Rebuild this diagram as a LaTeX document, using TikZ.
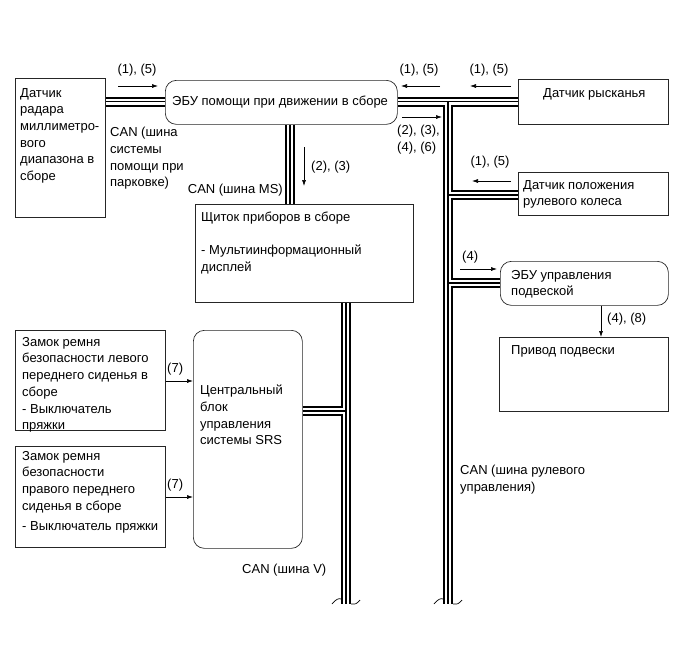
\documentclass[tikz,border=0pt]{standalone}
\usepackage{fontspec}
\setmainfont{Liberation Sans}
\usetikzlibrary{arrows.meta,backgrounds}
\begin{document}
\begin{tikzpicture}[x=1pt,y=-1pt,
  box/.style={draw=black!85,line width=0.7pt,inner sep=0pt,anchor=north west},
  rbox/.style={box,rounded corners=11pt},
  txt/.style={anchor=north west,inner sep=0pt,align=left,font=\fontsize{13}{16.7}\selectfont},
  arr/.style={-{Latex[length=6pt,width=4pt]},line width=0.6pt},
  squig/.style={line width=0.7pt},
]
\useasboundingbox (0,0) rectangle (686,662);

% boxes
\node[box,minimum width=90pt,minimum height=139pt] (radar) at (15,78) {};
\node[rbox,minimum width=232pt,minimum height=44pt] (ecu) at (165,80) {};
\node[box,minimum width=150pt,minimum height=45pt] (yaw) at (518,79) {};
\node[box,minimum width=150pt,minimum height=43pt] (steer) at (518,172) {};
\node[box,minimum width=218pt,minimum height=98pt] (ic) at (195,204) {};
\node[rbox,minimum width=168pt,minimum height=44pt] (suspecu) at (500,261) {};
\node[box,minimum width=169pt,minimum height=74pt] (act) at (499,337) {};
\node[rbox,minimum width=109pt,minimum height=218pt] (srs) at (193,330) {};
\node[box,minimum width=150pt,minimum height=100pt] (seat1) at (15,330) {};
\node[box,minimum width=150pt,minimum height=101pt] (seat2) at (15,446) {};

% box texts
\node[txt] (tradar) at (20,88) {Датчик\\радара\\миллиметро-\\вого\\диапазона в\\сборе};
\node[txt] (tecu) at (172,96) {ЭБУ помощи при движении в сборе};
\node[txt] (tyaw) at (543,88) {Датчик рысканья};
\node[txt] (tsteer) at (523,180) {Датчик положения\\рулевого колеса};
\node[txt] (tic) at (201,212) {Щиток приборов в сборе\\[16.5pt]- Мультиинформационный\\дисплей};
\node[txt] (tsusp) at (511,270) {ЭБУ управления\\подвеской};
\node[txt] (tact) at (511,345) {Привод подвески};
\node[txt] (tsrs) at (200,385) {Центральный\\блок\\управления\\системы SRS};
\node[txt] (tseat1) at (22,337) {Замок ремня\\безопасности левого\\переднего сиденья в\\сборе\\- Выключатель\\пряжки};
\node[txt] (tseat2) at (22,451) {Замок ремня\\безопасности\\правого переднего\\сиденья в сборе\\[3pt]- Выключатель пряжки};

% bus coordinates
\coordinate (bY) at (0,101.5);
\coordinate (bM) at (290,150);
\coordinate (bR1) at (448,101.5);
\coordinate (bR2) at (448,195);
\coordinate (bR3) at (448,283);
\coordinate (bRend) at (448,604);
\coordinate (bL1) at (346,411);
\coordinate (bLend) at (346,604);

\newcommand{\buslines}[1]{%
  \draw[#1] (radar.east |- bY) -- (ecu.west |- bY);
  \draw[#1] (ecu.east |- bY) -- (yaw.west |- bY);
  \draw[#1] (bR1) -- (bRend);
  \draw[#1] (bR2) -- (steer.west |- bR2);
  \draw[#1] (bR3) -- (suspecu.west |- bR3);
  \draw[#1] (ecu.south -| bM) -- (ic.north -| bM);
  \draw[#1] (ic.south -| bL1) -- (bLend);
  \draw[#1] (srs.east |- bL1) -- (bL1);
}
\begin{scope}[on background layer]
  \buslines{line width=10pt,black}
  \buslines{line width=6pt,white}
  \buslines{line width=1.2pt,black}
\end{scope}

% bus end marks
\foreach \e in {bLend,bRend}{
  \draw[squig] ([shift={(-14,0)}]\e) .. controls ([shift={(-10,-5)}]\e) and ([shift={(-7,-6)}]\e) .. ([shift={(-5,-5)}]\e);
  \draw[squig] ([shift={(5,0)}]\e) .. controls ([shift={(8,1)}]\e) and ([shift={(11,0)}]\e) .. ([shift={(14,-4)}]\e);
}

% signal arrows
\coordinate (a1s) at (118,86); \coordinate (a1e) at (158,86);
\draw[arr] (a1s) -- (a1e);
\node[txt,anchor=north] (l1) at (137,64) {(1), (5)};

\coordinate (a2s) at (304,147); \coordinate (a2e) at (304,186);
\draw[arr] (a2s) -- (a2e);
\node[txt] (l2) at (311,160.5) {(2), (3)};

\coordinate (a3s) at (440,86); \coordinate (a3e) at (401,86);
\draw[arr] (a3s) -- (a3e);
\node[txt,anchor=north] (l3) at (419,64) {(1), (5)};

\coordinate (a4s) at (511,86); \coordinate (a4e) at (470,86);
\draw[arr] (a4s) -- (a4e);
\node[txt,anchor=north] (l4) at (489,64) {(1), (5)};

\coordinate (a5s) at (402,117); \coordinate (a5e) at (442,117);
\draw[arr] (a5s) -- (a5e);
\node[txt] (l5) at (397,125) {(2), (3),\\(4), (6)};

\coordinate (a6s) at (511,181); \coordinate (a6e) at (472,181);
\draw[arr] (a6s) -- (a6e);
\node[txt,anchor=north] (l6) at (490,155.5) {(1), (5)};

\coordinate (a7s) at (460,269); \coordinate (a7e) at (497,269);
\draw[arr] (a7s) -- (a7e);
\node[txt] (l7) at (462,250.5) {(4)};

\coordinate (ax) at (601,0);
\draw[arr] (suspecu.south -| ax) -- (act.north -| ax);
\node[txt] (l8) at (607,313) {(4), (8)};

\draw[arr] (seat1.east |- 0,381) -- (srs.west |- 0,381);
\node[txt] (l9) at (167,363) {(7)};
\draw[arr] (seat2.east |- 0,497) -- (srs.west |- 0,497);
\node[txt] (l10) at (167,479) {(7)};

% bus labels
\node[txt] (cpark) at (110,127) {CAN (шина\\системы\\помощи при\\парковке)};
\node[txt,anchor=north east] (cms) at (283,184) {CAN (шина MS)};
\node[txt] (cv) at (242,564) {CAN (шина V)};
\node[txt] (csteer) at (460,465) {CAN (шина рулевого\\управления)};
\end{tikzpicture}
\end{document}
